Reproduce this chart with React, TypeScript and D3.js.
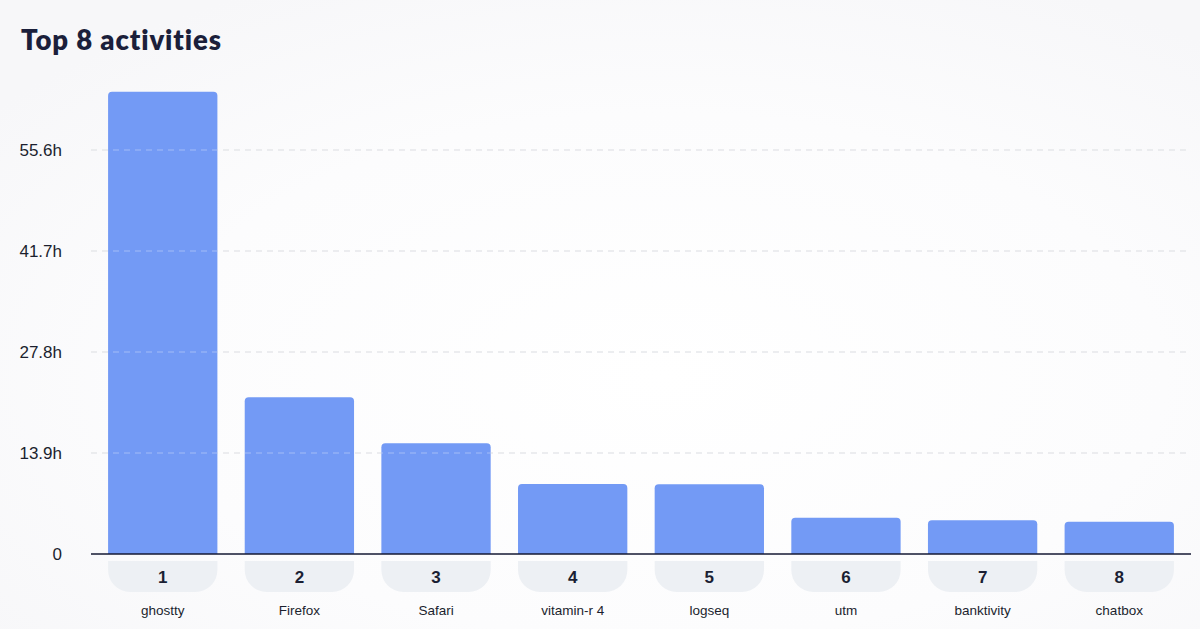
import React from "react";
import * as d3 from "d3";

const ranks = ["1", "2", "3", "4", "5", "6", "7", "8"];
const names = ["ghostty", "Firefox", "Safari", "vitamin-r 4", "logseq", "utm", "banktivity", "chatbox"];
const hours = [63.6, 21.57, 15.23, 9.63, 9.59, 5.0, 4.64, 4.45];
const tickValues = [0, 13.9, 27.8, 41.7, 55.6];
const tickLabels = ["0", "13.9h", "27.8h", "41.7h", "55.6h"];
const title = "Top 8 activities";

const W = 1200;
const H = 629;
const left = 91;
const right = 1191;
const baseY = 554;
const topY = 49;

function barPath(x: number, y: number, w: number, h: number, r: number) {
  const rr = Math.min(r, h, w / 2);
  return `M${x},${y + h}V${y + rr}Q${x},${y} ${x + rr},${y}H${x + w - rr}Q${x + w},${y} ${x + w},${y + rr}V${y + h}Z`;
}

function pillPath(x: number, y: number, w: number, h: number, r: number) {
  return `M${x},${y}H${x + w}V${y + h - r}A${r},${r} 0 0 1 ${x + w - r},${y + h}H${x + r}A${r},${r} 0 0 1 ${x},${y + h - r}Z`;
}

export default function App() {
  const x = d3.scaleBand<string>().domain(ranks).range([left, right]).paddingInner(0.2).paddingOuter(0.125);
  const y = d3.scaleLinear().domain([0, 69.5]).range([baseY, topY]);
  const bw = x.bandwidth();

  return (
    <svg width={W} height={H} style={{ position: "absolute", left: 0, top: 0 }}>
      <defs>
        <radialGradient id="bg" cx="0.55" cy="0.6" r="0.7">
          <stop offset="0" stopColor="#ffffff" />
          <stop offset="0.6" stopColor="#fcfcfd" />
          <stop offset="1" stopColor="#f7f7f9" />
        </radialGradient>
      </defs>
      <rect x={0} y={0} width={W} height={H} fill="url(#bg)" />
      <text
        x={21}
        y={50}
        fontFamily="Lato, 'Noto Sans', sans-serif"
        fontWeight={800}
        fontSize={27.5}
        fill="#1b1f3b"
        textLength={200}
        lengthAdjust="spacing"
        style={{ fontVariantLigatures: "none" }}
      >
        {title}
      </text>
      {tickValues.map((t, i) => (
        <g key={t}>
          {i > 0 && (
            <line x1={left} x2={right} y1={y(t)} y2={y(t)} stroke="#d3d6db" strokeWidth={1} strokeDasharray="6,5" />
          )}
          <text
            x={62}
            y={y(t)}
            dy="0.35em"
            textAnchor="end"
            fontFamily="'Liberation Sans', Arial, sans-serif"
            fontSize={17}
            fill="#1b1f2e"
          >
            {tickLabels[i]}
          </text>
        </g>
      ))}
      {hours.map((v, i) => {
        const bx = x(ranks[i]) as number;
        return (
          <path key={"b" + i} d={barPath(bx, y(v), bw, baseY - y(v), 4)} fill="#739af5" />
        );
      })}
      {tickValues.slice(1).map((t) => (
        <line key={"g" + t} x1={left} x2={right} y1={y(t)} y2={y(t)} stroke="#ffffff" strokeOpacity={0.35} strokeWidth={1} strokeDasharray="6,5" />
      ))}
      <line x1={left} x2={right} y1={baseY} y2={baseY} stroke="#141833" strokeWidth={1.6} />
      {ranks.map((r, i) => {
        const bx = x(r) as number;
        const cx = bx + bw / 2;
        return (
          <g key={"l" + r}>
            <path d={pillPath(bx, 561, bw, 31, 22)} fill="#edf0f4" />
            <text
              x={cx}
              y={577}
              dy="0.35em"
              textAnchor="middle"
              fontFamily="'Liberation Sans', Arial, sans-serif"
              fontWeight={700}
              fontSize={17}
              fill="#1b1f33"
            >
              {r}
            </text>
            <text
              x={cx}
              y={610}
              dy="0.35em"
              textAnchor="middle"
              fontFamily="'Liberation Sans', Arial, sans-serif"
              fontSize={13.5}
              fill="#1b1f2e"
            >
              {names[i]}
            </text>
          </g>
        );
      })}
    </svg>
  );
}
